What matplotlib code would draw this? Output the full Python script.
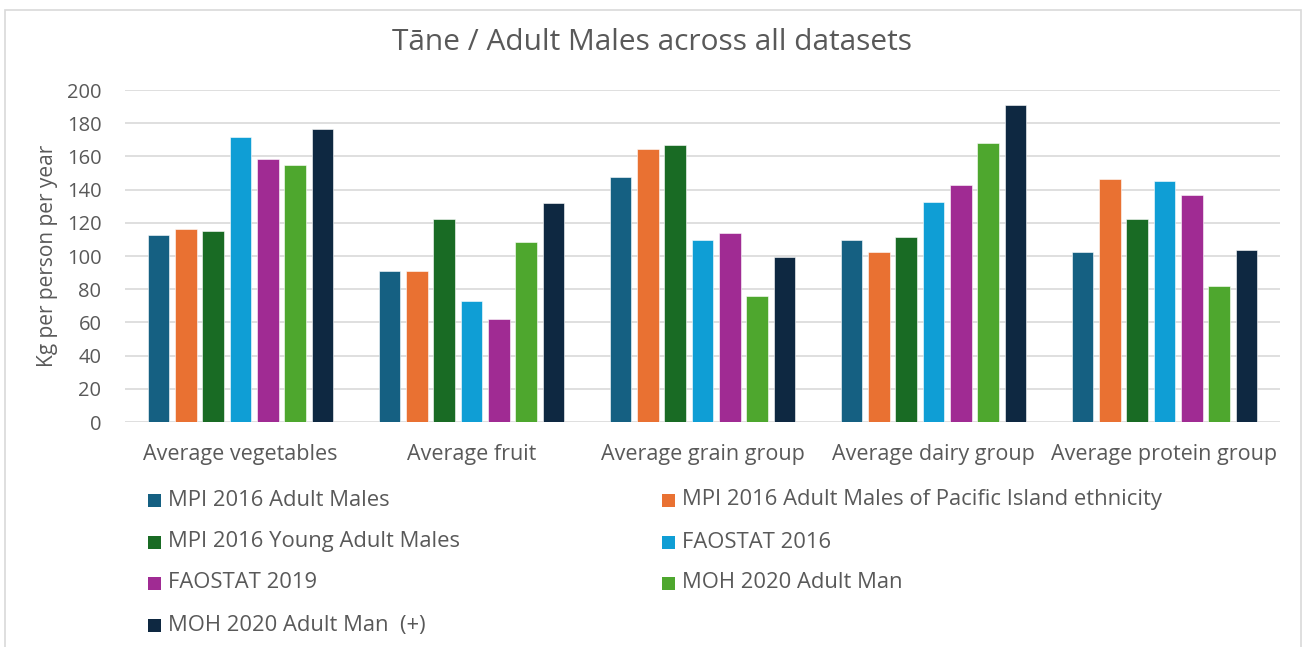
"""
Tāne / Adult Males across all datasets - grouped bar chart.

Output: out.png
"""

import matplotlib.pyplot as plt
import numpy as np
from matplotlib.patches import Rectangle

CATEGORIES = ["Average vegetables", "Average fruit", "Average grain group",
              "Average dairy group", "Average protein group"]

SERIES = [
    "MPI 2016 Adult Males",
    "MPI 2016 Adult Males of Pacific Island ethnicity",
    "MPI 2016 Young Adult Males",
    "FAOSTAT 2016",
    "FAOSTAT 2019",
    "MOH 2020 Adult Man",
    "MOH 2020 Adult Man  (+)",
]

# values per series, one per category
MPI_ADULT = [112.5, 90.7, 147.4, 109.9, 102.7]
MPI_PACIFIC = [116.1, 90.7, 164.3, 102.7, 146.2]
MPI_YOUNG = [114.9, 122.0, 166.7, 111.3, 122.0]
FAO_2016 = [171.5, 72.8, 109.9, 132.8, 145.0]
FAO_2019 = [158.3, 62.0, 113.7, 142.6, 136.6]
MOH_2020 = [154.7, 108.7, 76.2, 167.9, 82.2]
MOH_2020_PLUS = [176.3, 131.8, 99.3, 190.8, 103.9]

VALUES = [MPI_ADULT, MPI_PACIFIC, MPI_YOUNG, FAO_2016, FAO_2019, MOH_2020, MOH_2020_PLUS]
COLORS = ["#156082", "#E97132", "#196B24", "#0F9ED5", "#A02B93", "#4EA72E", "#0E2841"]

Y_TICKS = [0, 20, 40, 60, 80, 100, 120, 140, 160, 180, 200]

TEXT_COLOR = "#595959"
GRID_COLOR = "#d9d9d9"
FONT = ["Open Sans", "DejaVu Sans"]

W, H = 1303, 647

plt.rcParams["font.family"] = FONT

fig = plt.figure(figsize=(W / 100, H / 100), dpi=100)

# chart frame
fig.add_artist(Rectangle((5 / W, -0.02), 1296 / W, 1.02 - 10 / H,
                         transform=fig.transFigure, facecolor="none",
                         edgecolor=GRID_COLOR, linewidth=1.2))

ax = fig.add_axes([125 / W, 1 - 422 / H, 1155 / W, 332 / H])

x = np.arange(len(CATEGORIES))
pitch = 0.1183
width = 0.094
for i, (vals, color) in enumerate(zip(VALUES, COLORS)):
    ax.bar(x + (i - 3) * pitch, vals, width=width, color=color,
           edgecolor="white", linewidth=0.4, zorder=3)

ax.set_xlim(-0.5, len(CATEGORIES) - 0.5)
ax.set_ylim(0, 200)
ax.set_yticks(Y_TICKS)
ax.set_xticks(x)
ax.set_xticklabels(CATEGORIES)
ax.tick_params(axis="x", length=0, colors=TEXT_COLOR, labelsize=15.5, pad=16)
ax.tick_params(axis="y", length=0, colors=TEXT_COLOR, labelsize=14.5, pad=17)
ax.grid(axis="y", color=GRID_COLOR, linewidth=1.2, zorder=0)
for side in ["top", "right", "left", "bottom"]:
    ax.spines[side].set_visible(False)

ax.set_ylabel("Kg per person per year", fontsize=15, color=TEXT_COLOR, labelpad=6)

fig.text(652 / W, 1 - 43 / H, "Tāne / Adult Males across all datasets",
         ha="center", va="center", fontsize=21.5, color=TEXT_COLOR)

# legend, laid out row by row in two columns like the original
col_x = [148, 662]
row_y = [500, 542, 583, 625]
sq = 13
for i, (name, color) in enumerate(zip(SERIES, COLORS)):
    cx = col_x[i % 2]
    cy = row_y[i // 2]
    fig.add_artist(Rectangle((cx / W, 1 - (cy + sq / 2) / H), sq / W, sq / H,
                             transform=fig.transFigure, facecolor=color,
                             edgecolor="none"))
    fig.text((cx + 20) / W, 1 - cy / H, name, ha="left", va="center",
             fontsize=15.8, color=TEXT_COLOR)

fig.savefig("out.png", dpi=100)
